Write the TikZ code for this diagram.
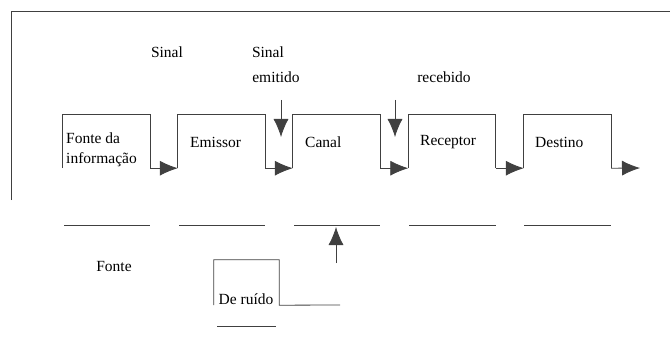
\documentclass[tikz,border=0pt]{standalone}
\usepackage{fontspec}
\setmainfont{LiberationSerif}[Extension=.ttf, UprightFont=*-Regular, BoldFont=*-Bold, ItalicFont=*-Italic, BoldItalicFont=*-BoldItalic]
\usetikzlibrary{arrows.meta}
\begin{document}
\begin{tikzpicture}[x=1pt,y=-1pt,
  ln/.style={draw=black!75, line width=0.8pt},
  arr/.style={ln, -{Latex[length=18pt,width=15pt]}},
  blk/.style={minimum width=87pt, minimum height=53pt, inner sep=0pt},
  lbl/.style={font=\rmfamily\fontsize{15.5}{20}\selectfont, inner sep=0pt, align=left}]
\useasboundingbox (0,0) rectangle (670,337);
% frame
\draw[ln] (11,200) -- (11,11) -- (670,11);
% blocks
\node[blk] (b1) at (106.5,141.5) {};
\node[blk] (b2) at (221.5,141.5) {};
\node[blk] (b3) at (336.5,141.5) {};
\node[blk] (b4) at (452,141.5) {};
\node[blk] (b5) at (567.5,141.5) {};
\foreach \b in {b1,b2,b3,b4,b5}
  \draw[ln] (\b.south west) |- (\b.north east) -- (\b.south east);
\coordinate (end) at (640,168);
\draw[arr] (b1.south east) -- (b2.south west);
\draw[arr] (b2.south east) -- (b3.south west);
\draw[arr] (b3.south east) -- (b4.south west);
\draw[arr] (b4.south east) -- (b5.south west);
\draw[arr] (b5.south east) -- (end);
% block texts
\node[lbl, anchor=west] (t1) at (66,150) {Fonte da\\informação};
\node[lbl, anchor=west] (t2) at (190,142) {Emissor};
\node[lbl, anchor=west] (t3) at (305,142) {Canal};
\node[lbl, anchor=west] (t4) at (420,142) {Receptor};
\node[lbl, anchor=west] (t5) at (535,142) {Destino};
% upper labels
\node[lbl] (s1) at (167,52) {Sinal};
\node[lbl] (s2) at (268,52) {Sinal};
\node[lbl] (s3) at (276,77) {emitido};
\node[lbl] (s4) at (444,77) {recebido};
\coordinate (d1a) at (281,100); \coordinate (d1b) at (281,137);
\coordinate (d2a) at (395,100); \coordinate (d2b) at (395,137);
\draw[arr] (d1a) -- (d1b);
\draw[arr] (d2a) -- (d2b);
% lines below
\foreach \a/\c in {64/150,179/265,294/380,409/496,524/611}
  \draw[ln] (\a,225) -- (\c,225);
% noise
\node[lbl] (f) at (114,267) {Fonte};
\node[minimum width=65pt, minimum height=45pt, inner sep=0pt] (r) at (246.5,282.5) {};
\coordinate (rend) at (340,305);
\draw[ln] (r.south west) |- (r.north east) -- (r.south east) -- (rend);
\node[lbl] (rt) at (246,299) {De ruído};
\draw[ln] (217,326) -- (276,326);
\coordinate (ua) at (336,263); \coordinate (ub) at (336,227);
\draw[arr] (ua) -- (ub);
\end{tikzpicture}
\end{document}
